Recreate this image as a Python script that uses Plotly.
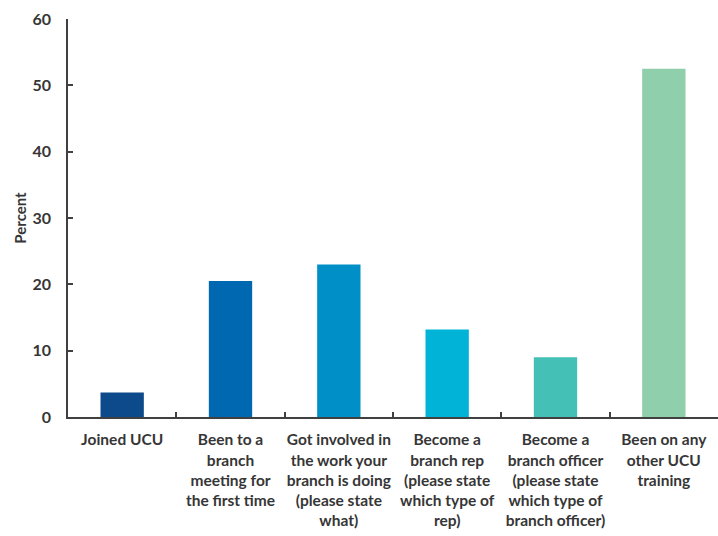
import plotly.graph_objects as go

# Survey outcomes after the course, share of respondents (%)
categories = [
    "Joined UCU",
    "Been to a<br>branch<br>meeting for<br>the first time",
    "Got involved in<br>the work your<br>branch is doing<br>(please state<br>what)",
    "Become a<br>branch rep<br>(please state<br>which type of<br>rep)",
    "Become a<br>branch officer<br>(please state<br>which type of<br>branch officer)",
    "Been on any<br>other UCU<br>training",
]
percent = [3.7, 20.5, 23.0, 13.2, 9.0, 52.5]
bar_colors = ["#0d4a8c", "#0068b0", "#008fc6", "#00b3d7", "#45c0b6", "#8fcfab"]
y_ticks = [0, 10, 20, 30, 40, 50, 60]

text_color = "#363636"
axis_color = "#404040"
font_family = "Lato, Calibri, 'Open Sans', sans-serif"

fig = go.Figure(
    go.Bar(
        x=categories,
        y=percent,
        marker=dict(color=bar_colors, line=dict(width=0)),
        width=0.4,
    )
)

fig.update_layout(
    width=718,
    height=536,
    margin=dict(l=68, r=0, t=19, b=119),
    paper_bgcolor="white",
    plot_bgcolor="white",
    showlegend=False,
    font=dict(family=font_family, color=text_color),
)

fig.update_xaxes(
    type="category",
    showline=True,
    linecolor=axis_color,
    linewidth=1.5,
    ticks="inside",
    tickson="boundaries",
    ticklen=5,
    tickwidth=1.5,
    tickcolor=axis_color,
    showgrid=False,
    tickangle=0,
    tickfont=dict(family=font_family, size=15.5, color=text_color, weight="bold"),
    ticklabelstandoff=8,
)

fig.update_yaxes(
    range=[0, 60],
    tickvals=y_ticks,
    showline=True,
    linecolor=axis_color,
    linewidth=1.5,
    ticks="inside",
    ticklen=5,
    tickwidth=1.5,
    tickcolor=axis_color,
    showgrid=False,
    zeroline=False,
    tickfont=dict(family=font_family, size=16, color=text_color, weight="bold"),
    ticklabelstandoff=12,
    title=dict(
        text="Percent",
        font=dict(family=font_family, size=15, color=text_color, weight="bold"),
        standoff=2,
    ),
)

fig.write_html("out.html")
